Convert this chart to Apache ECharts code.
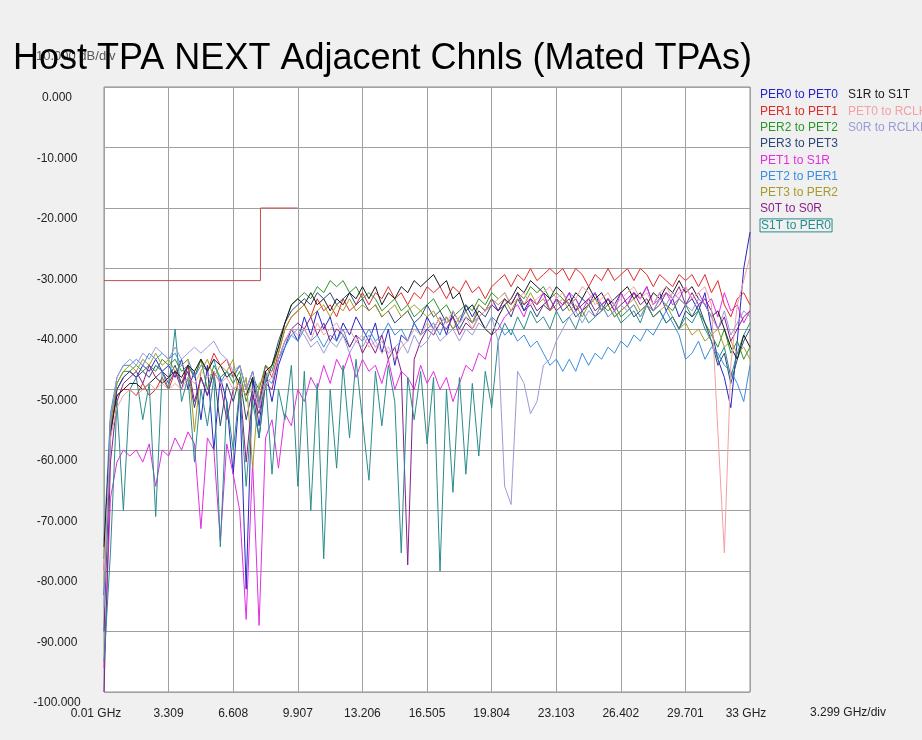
<!DOCTYPE html>
<html>
<head>
<meta charset="utf-8">
<script src="https://cdn.jsdelivr.net/npm/echarts@6/dist/echarts.min.js"></script>
<style>
html,body{margin:0;padding:0;background:#f0f0f0;}
#chart{width:922px;height:740px;}
</style>
</head>
<body>
<div id="chart"></div>
<script>
// Frequency sample points (GHz)
const freq = [0.01,0.34,0.67,1.00,1.33,1.66,1.99,2.32,2.65,2.98,3.31,3.64,3.97,4.30,4.63,4.96,5.29,5.62,5.95,6.28,6.61,6.94,7.27,7.60,7.93,8.26,8.59,8.92,9.25,9.58,9.91,10.24,10.57,10.90,11.23,11.56,11.89,12.22,12.55,12.88,13.21,13.54,13.87,14.20,14.53,14.86,15.19,15.52,15.85,16.18,16.51,16.84,17.17,17.50,17.83,18.16,18.49,18.82,19.15,19.48,19.81,20.14,20.47,20.80,21.13,21.46,21.79,22.12,22.45,22.78,23.11,23.44,23.77,24.10,24.43,24.76,25.09,25.42,25.75,26.08,26.41,26.74,27.07,27.40,27.73,28.06,28.39,28.72,29.05,29.38,29.71,30.04,30.37,30.70,31.03,31.36,31.69,32.02,32.35,32.68,33.00];

const seriesNames = ['PER0 to PET0','PER1 to PET1','PER2 to PET2','PER3 to PET3','PET1 to S1R','PET2 to PER1','PET3 to PER2','S0T to S0R','S1T to PER0','S1R to S1T','PET0 to RCLK','S0R to RCLKB'];

const per0_pet0 = [-84,
 -55,-50,-48,-47,-48,-46,-47,-45,-47,-46,
 -48,-45,-50,-47,-55,-46,-60,-48,-52,-64,
 -50,-83,-48,-56,-47,-52,-46,-43,-40,-42,
 -38,-41,-37,-40,-38,-42,-39,-41,-38,-40,
 -42,-39,-44,-40,-46,-41,-42,-39,-41,-38,
 -40,-38,-41,-37,-39,-36,-38,-36,-37,-35,
 -37,-35,-36,-34,-37,-35,-36,-34,-37,-35,
 -36,-34,-37,-35,-36,-34,-37,-35,-36,-34,
 -36,-34,-35,-33,-36,-34,-37,-35,-38,-36,
 -35,-37,-34,-40,-45,-48,-53,-42,-30,-24,-24];

const per1_pet1 = [-80,
 -56,-51,-50,-50,-51,-49,-51,-50,-48,-50,
 -47,-49,-46,-48,-45,-47,-44,-46,-45,-48,
 -46,-50,-47,-52,-46,-48,-44,-40,-38,-37,
 -36,-38,-35,-37,-36,-38,-35,-37,-36,-34,
 -36,-34,-35,-33,-35,-34,-36,-34,-35,-33,
 -34,-33,-35,-33,-34,-32,-34,-33,-35,-33,
 -32,-31,-33,-31,-32,-30,-32,-31,-30,-31,
 -30,-32,-30,-31,-33,-31,-32,-30,-32,-31,
 -30,-32,-30,-31,-33,-31,-32,-33,-31,-32,
 -31,-33,-31,-34,-32,-36,-38,-35,-34,-36,-35];

const per2_pet2 = [-78,
 -55,-49,-47,-47,-46,-47,-46,-47,-45,-46,
 -45,-47,-46,-48,-45,-50,-46,-48,-47,-49,
 -47,-52,-48,-50,-46,-47,-43,-39,-36,-35,
 -34,-35,-33,-34,-32,-33,-32,-34,-33,-35,
 -34,-35,-37,-36,-35,-37,-36,-38,-37,-36,
 -35,-37,-36,-38,-37,-36,-37,-35,-36,-34,
 -35,-34,-36,-34,-35,-33,-34,-33,-35,-34,
 -35,-36,-35,-37,-36,-35,-36,-37,-36,-38,
 -37,-36,-38,-36,-37,-35,-36,-37,-35,-36,
 -38,-37,-39,-41,-43,-40,-44,-42,-45,-43,-45];

const per3_pet3 = [-90,
 -58,-50,-48,-47,-48,-47,-48,-46,-47,-48,
 -46,-49,-47,-53,-48,-51,-47,-56,-49,-52,
 -48,-55,-50,-58,-49,-46,-42,-39,-37,-36,
 -35,-36,-34,-35,-34,-36,-35,-34,-36,-35,
 -37,-36,-38,-37,-39,-38,-37,-39,-38,-36,
 -38,-37,-39,-38,-40,-38,-39,-37,-38,-36,
 -37,-36,-38,-35,-37,-36,-38,-36,-37,-35,
 -37,-36,-38,-37,-36,-38,-37,-36,-38,-37,
 -36,-38,-37,-36,-38,-37,-39,-38,-40,-37,
 -38,-36,-39,-42,-46,-44,-49,-45,-42,-40,-41];

const pet1_s1r = [-96,
 -68,-62,-60,-61,-60,-62,-59,-66,-60,-61,
 -58,-60,-57,-59,-73,-58,-60,-75,-59,-64,
 -70,-88,-62,-89,-58,-55,-63,-54,-56,-50,
 -52,-48,-50,-46,-49,-45,-47,-44,-48,-45,
 -47,-46,-49,-45,-50,-47,-48,-50,-46,-49,
 -47,-50,-48,-52,-49,-46,-47,-44,-45,-41,
 -40,-38,-37,-36,-38,-35,-36,-34,-37,-35,
 -36,-34,-35,-37,-35,-34,-36,-35,-37,-34,
 -36,-34,-35,-33,-36,-35,-34,-36,-35,-33,
 -35,-34,-36,-35,-38,-34,-37,-36,-39,-37,-38];

const pet2_per1 = [-75,
 -54,-48,-46,-46,-45,-46,-44,-45,-44,-45,
 -44,-46,-45,-48,-46,-47,-45,-49,-47,-48,
 -46,-50,-47,-52,-48,-49,-45,-43,-41,-42,
 -40,-42,-41,-43,-41,-42,-40,-43,-41,-42,
 -40,-42,-41,-39,-41,-40,-42,-39,-41,-40,
 -39,-41,-38,-40,-39,-37,-39,-38,-40,-38,
 -39,-41,-40,-42,-41,-43,-42,-44,-46,-45,
 -47,-45,-47,-44,-46,-44,-45,-43,-44,-42,
 -43,-41,-42,-40,-41,-39,-37,-39,-41,-45,
 -44,-42,-45,-43,-44,-46,-47,-49,-52,-46,-40];

const pet3_per2 = [-82,
 -56,-49,-47,-46,-47,-45,-46,-44,-46,-45,
 -47,-46,-45,-57,-47,-45,-48,-46,-47,-45,
 -52,-48,-63,-49,-48,-46,-44,-40,-38,-37,
 -36,-38,-37,-36,-38,-36,-37,-35,-37,-36,
 -37,-36,-38,-37,-36,-38,-37,-36,-37,-38,
 -37,-39,-38,-40,-38,-37,-39,-36,-37,-35,
 -36,-35,-37,-35,-36,-34,-36,-35,-37,-36,
 -35,-37,-36,-38,-36,-35,-37,-36,-38,-37,
 -36,-35,-37,-36,-38,-37,-36,-38,-40,-39,
 -41,-40,-42,-41,-40,-43,-42,-44,-43,-45,-44];

const s0t_s0r = [-100,
 -62,-52,-49,-48,-47,-49,-46,-48,-47,-49,
 -47,-50,-46,-52,-48,-51,-47,-49,-55,-50,
 -49,-62,-51,-54,-49,-50,-45,-42,-40,-39,
 -40,-38,-41,-39,-42,-40,-41,-43,-41,-44,
 -42,-44,-41,-45,-43,-47,-79,-45,-42,-40,
 -41,-39,-40,-38,-41,-39,-40,-38,-37,-36,
 -37,-35,-36,-34,-36,-35,-37,-36,-35,-37,
 -36,-35,-37,-36,-35,-37,-36,-35,-37,-36,
 -35,-34,-36,-35,-37,-36,-34,-35,-33,-36,
 -34,-36,-35,-37,-40,-38,-42,-40,-38,-37,-38];

const s1t_per0 = [-95,
 -77,-52,-70,-50,-48,-55,-49,-71,-47,-50,
 -40,-52,-48,-62,-50,-56,-48,-76,-52,-60,
 -50,-66,-52,-58,-48,-64,-50,-55,-46,-66,
 -47,-70,-49,-78,-50,-63,-46,-58,-45,-55,
 -65,-47,-56,-46,-52,-77,-48,-55,-47,-59,
 -48,-80,-50,-67,-48,-64,-49,-61,-47,-53,
 -42,-39,-41,-38,-40,-37,-39,-38,-40,-37,
 -39,-38,-40,-37,-39,-38,-36,-38,-37,-39,
 -38,-37,-39,-36,-38,-37,-39,-38,-40,-38,
 -39,-37,-40,-42,-45,-43,-48,-44,-41,-39,-38];

const s1r_s1t = [-76,
 -57,-51,-50,-49,-49,-50,-49,-48,-49,-48,
 -47,-48,-46,-47,-45,-47,-45,-46,-48,-47,
 -49,-51,-48,-53,-47,-46,-43,-39,-36,-35,
 -36,-34,-36,-35,-37,-35,-36,-34,-35,-33,
 -35,-33,-36,-34,-35,-33,-34,-32,-33,-32,
 -31,-33,-32,-35,-34,-37,-36,-38,-40,-41,
 -38,-36,-35,-33,-34,-32,-33,-34,-35,-33,
 -34,-36,-34,-35,-33,-35,-34,-36,-35,-34,
 -33,-35,-34,-36,-34,-35,-33,-34,-32,-34,
 -33,-35,-36,-38,-37,-40,-43,-45,-41,-43,-42];

const pet0_rclk = [-80,
 -58,-53,-51,-50,-51,-50,-49,-50,-49,-50,
 -49,-50,-48,-49,-47,-48,-47,-49,-48,-50,
 -49,-51,-50,-53,-49,-48,-45,-42,-40,-41,
 -40,-42,-39,-41,-40,-39,-41,-40,-42,-41,
 -43,-42,-44,-43,-45,-43,-42,-40,-41,-39,
 -40,-38,-39,-37,-39,-38,-40,-38,-37,-36,
 -35,-34,-36,-35,-34,-36,-35,-34,-33,-35,
 -34,-36,-35,-33,-34,-36,-35,-34,-36,-35,
 -34,-33,-35,-34,-36,-34,-33,-35,-34,-33,
 -35,-34,-33,-36,-57,-77,-46,-36,-32,-28,-27];

const s0r_rclkb = [-86,
 -55,-48,-46,-45,-46,-44,-45,-43,-44,-45,
 -43,-45,-44,-43,-44,-43,-42,-44,-45,-47,
 -46,-50,-47,-53,-48,-47,-45,-42,-41,-40,
 -41,-43,-42,-44,-42,-43,-41,-44,-42,-43,
 -41,-43,-42,-44,-43,-42,-44,-41,-43,-42,
 -40,-42,-41,-40,-42,-40,-41,-39,-40,-38,
 -42,-66,-69,-47,-49,-54,-52,-46,-45,-42,
 -40,-38,-37,-39,-37,-38,-36,-38,-37,-36,
 -37,-36,-38,-36,-37,-35,-36,-34,-35,-36,
 -37,-35,-36,-38,-40,-37,-41,-39,-37,-38,-40];

// Limit line (GHz, dB)
const limitFreq = [0.01, 8.0, 8.0, 9.9];
const limitDb = [-32, -32, -20, -20];

const xTickLabels = ['0.01 GHz','3.309','6.608','9.907','13.206','16.505','19.804','23.103','26.402','29.701','33 GHz'];
const yTickLabels = ['0.000','-10.000','-20.000','-30.000','-40.000','-50.000','-60.000','-70.000','-80.000','-90.000','-100.000'];

const seriesValues = [per0_pet0,per1_pet1,per2_pet2,per3_pet3,pet1_s1r,pet2_per1,pet3_per2,s0t_s0r,s1t_per0,s1r_s1t,pet0_rclk,s0r_rclkb];
const seriesColors = ['#2626c8','#e02a2a','#2a962a','#2c4878','#e22ee2','#3a8ee0','#a89a2a','#8a1e8a','#2a8c8c','#1a1a1a','#f4a0a4','#9a9ad8'];

const chart = echarts.init(document.getElementById('chart'), null, {renderer:'canvas'});

const series = seriesNames.map((n, i) => ({
  name: n,
  type: 'line',
  xAxisIndex: 0,
  yAxisIndex: 0,
  showSymbol: false,
  symbol: 'none',
  silent: true,
  lineStyle: {width: 1, color: seriesColors[i]},
  itemStyle: {color: seriesColors[i]},
  data: freq.map((f, j) => [f, seriesValues[i][j]])
}));
series.push({
  name: 'Limit',
  type: 'line',
  xAxisIndex: 0, yAxisIndex: 0,
  showSymbol: false, symbol: 'none', silent: true,
  lineStyle: {width: 1, color: '#c25050'},
  data: limitFreq.map((f, j) => [f, limitDb[j]])
});

function legendData(names) {
  return names.map(n => {
    const i = seriesNames.indexOf(n);
    const ts = {color: seriesColors[i]};
    if (n === 'S1T to PER0') {
      ts.borderColor = '#2a8c8c'; ts.borderWidth = 1; ts.padding = [1, 1, 0, 1];
    }
    return {name: n, textStyle: ts};
  });
}

const legendCommon = {
  orient: 'vertical',
  itemWidth: 0,
  itemHeight: 14,
  itemGap: 2.3,
  selectedMode: false,
  icon: 'rect',
  itemStyle: {opacity: 0},
  lineStyle: {opacity: 0},
  textStyle: {fontFamily: 'Liberation Sans, Arial, sans-serif', fontSize: 12}
};

chart.setOption({
  animation: false,
  backgroundColor: '#f0f0f0',
  grid: {left: 104, top: 87, right: 172, bottom: 48, show: true, backgroundColor: '#ffffff', borderColor: '#8c8c8c', borderWidth: 1},
  xAxis: [
    {type: 'value', min: 0.01, max: 33, show: false},
    {type: 'value', min: 0, max: 10, interval: 1, position: 'bottom',
     axisLine: {show: false}, axisTick: {show: false},
     splitLine: {show: true, lineStyle: {color: '#a0a0a0', width: 1}},
     axisLabel: {margin: 16, color: '#222', fontSize: 12, fontFamily: 'Liberation Sans, Arial, sans-serif',
       formatter: v => {
         const idx = Math.round(v);
         if (idx === 0) return '{a|' + xTickLabels[idx] + '}';
         if (idx === 10) return '{b|' + xTickLabels[idx] + '}';
         return xTickLabels[idx];
       },
       rich: {a: {padding: [0, 16, 0, 0], fontSize: 12, color: '#222'}, b: {padding: [0, 8, 0, 0], fontSize: 12, color: '#222'}}
     }}
  ],
  yAxis: [
    {type: 'value', min: -100, max: 0, interval: 10,
     axisLine: {show: false}, axisTick: {show: false},
     splitLine: {show: true, lineStyle: {color: '#a0a0a0', width: 1}},
     axisLabel: {margin: 47, align: 'center', verticalAlign: 'top', padding: [5, 0, 0, 0], color: '#222', fontSize: 12,
       fontFamily: 'Liberation Sans, Arial, sans-serif',
       formatter: v => yTickLabels[Math.round(-v / 10)]}}
  ],
  legend: [
    Object.assign({}, legendCommon, {left: 750, top: 83, data: legendData(seriesNames.slice(0, 9))}),
    Object.assign({}, legendCommon, {left: 838, top: 83, data: legendData(seriesNames.slice(9))})
  ],
  graphic: [
    {type: 'text', left: 36, top: 50, z: 1, silent: true,
     style: {text: '10.000 dB/div', fill: '#555', font: '13px "Liberation Sans", Arial, sans-serif'}},
    {type: 'text', left: 13, top: 41, z: 2, silent: true,
     style: {text: 'Host TPA NEXT Adjacent Chnls (Mated TPAs)', fill: '#000', font: '36px "Liberation Sans", Arial, sans-serif'}},
    {type: 'text', left: 810, top: 707, silent: true,
     style: {text: '3.299 GHz/div', fill: '#222', font: '12px "Liberation Sans", Arial, sans-serif'}}
  ],
  series: series
});
</script>
</body>
</html>
